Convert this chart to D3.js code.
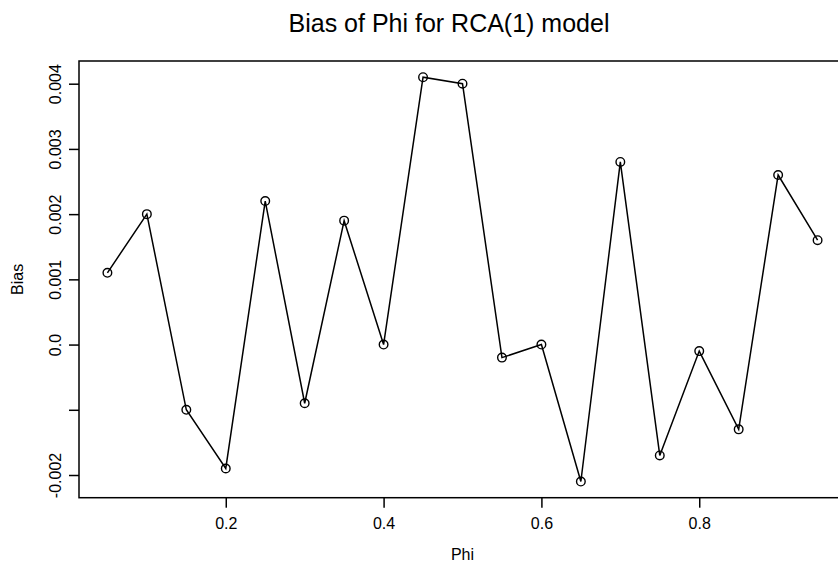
<!DOCTYPE html>
<html>
<head>
<meta charset="utf-8">
<script src="https://cdn.jsdelivr.net/npm/d3@7"></script>
<style>
  html, body { margin: 0; padding: 0; background: #fff; }
  svg { display: block; font-family: "Liberation Sans", Arial, Helvetica, sans-serif; }
</style>
</head>
<body>
<svg id="chart" width="838" height="568"></svg>
<script>
const phi = [0.05, 0.10, 0.15, 0.20, 0.25, 0.30, 0.35, 0.40, 0.45, 0.50,
             0.55, 0.60, 0.65, 0.70, 0.75, 0.80, 0.85, 0.90, 0.95];
const bias = [0.0011, 0.0020, -0.0010, -0.0019, 0.0022, -0.0009, 0.0019, 0.0000, 0.0041, 0.0040,
              -0.0002, 0.0000, -0.0021, 0.0028, -0.0017, -0.0001, -0.0013, 0.0026, 0.0016];
const xTicks = [0.2, 0.4, 0.6, 0.8];
const xTickLabels = ["0.2", "0.4", "0.6", "0.8"];
const yTicks = [-0.002, -0.001, 0.0, 0.001, 0.002, 0.003, 0.004];
const yTickLabels = ["-0.002", "", "0.0", "0.001", "0.002", "0.003", "0.004"];
const titleText = "Bias of Phi for RCA(1) model";
const xLabel = "Phi";
const yLabel = "Bias";

(function () {
const svg = d3.select("#chart");
const pLeft = 79, pRight = 846, pTop = 61, pBottom = 497.7;

// R-style 4% padding on data range
const xr = d3.extent(phi), yr = d3.extent(bias);
const xp = (xr[1] - xr[0]) * 0.04, yp = (yr[1] - yr[0]) * 0.04;
const x = d3.scaleLinear().domain([xr[0] - xp, xr[1] + xp]).range([pLeft, pRight]);
const y = d3.scaleLinear().domain([yr[0] - yp, yr[1] + yp]).range([pBottom, pTop]);

// box
svg.append("rect")
  .attr("x", pLeft).attr("y", pTop)
  .attr("width", pRight - pLeft).attr("height", pBottom - pTop)
  .attr("fill", "none").attr("stroke", "#000").attr("stroke-width", 1.5);

// x axis
const xAxis = d3.axisBottom(x).tickValues(xTicks)
  .tickFormat((d, i) => xTickLabels[i]).tickSizeOuter(0).tickSizeInner(10).tickPadding(10);
const gx = svg.append("g").attr("transform", `translate(0,${pBottom})`).call(xAxis);
gx.select(".domain").remove();
gx.selectAll(".tick line").attr("stroke", "#000").attr("stroke-width", 1.5);
gx.selectAll(".tick text").attr("font-size", 16).attr("fill", "#000")
  .attr("font-family", "Liberation Sans, Arial, sans-serif");

// y axis
const yAxis = d3.axisLeft(y).tickValues(yTicks)
  .tickFormat((d, i) => yTickLabels[i]).tickSizeOuter(0).tickSizeInner(10).tickPadding(0);
const gy = svg.append("g").attr("transform", `translate(${pLeft},0)`).call(yAxis);
gy.select(".domain").remove();
gy.selectAll(".tick line").attr("stroke", "#000").attr("stroke-width", 1.5);
gy.selectAll(".tick text")
  .attr("font-size", 16).attr("fill", "#000")
  .attr("font-family", "Liberation Sans, Arial, sans-serif")
  .attr("x", null).attr("dy", null)
  .attr("text-anchor", "middle")
  .attr("transform", "translate(-18,0) rotate(-90)");

// line
const line = d3.line().x((d, i) => x(phi[i])).y(d => y(d));
svg.append("path").datum(bias)
  .attr("d", line).attr("fill", "none").attr("stroke", "#000").attr("stroke-width", 1.5);

// points
svg.append("g").selectAll("circle").data(bias).join("circle")
  .attr("cx", (d, i) => x(phi[i])).attr("cy", d => y(d))
  .attr("r", 4.3).attr("fill", "none").attr("stroke", "#000").attr("stroke-width", 1.4);

// title
svg.append("text").attr("x", 449).attr("y", 32)
  .attr("text-anchor", "middle").attr("font-size", 25).attr("fill", "#000")
  .text(titleText);

// axis labels
svg.append("text").attr("x", (pLeft + pRight) / 2).attr("y", 560)
  .attr("text-anchor", "middle").attr("font-size", 16).attr("fill", "#000")
  .text(xLabel);
svg.append("text")
  .attr("transform", `translate(23,${(pTop + pBottom) / 2}) rotate(-90)`)
  .attr("text-anchor", "middle").attr("font-size", 16).attr("fill", "#000")
  .text(yLabel);
})();
</script>
</body>
</html>
